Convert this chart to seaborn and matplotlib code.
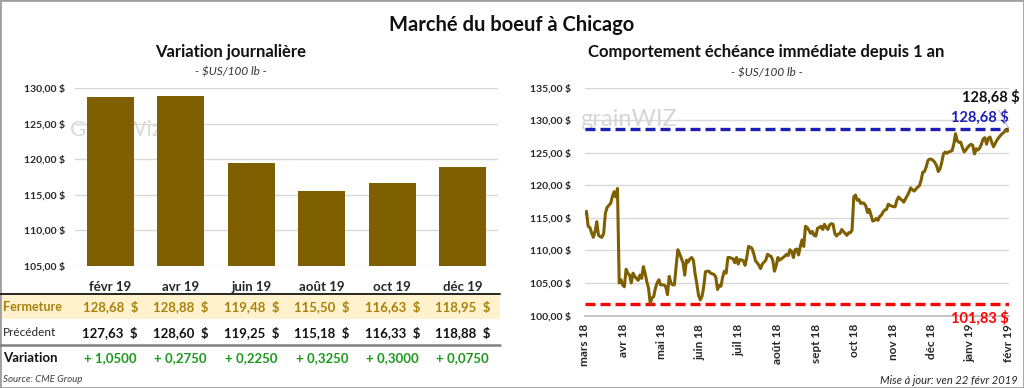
import numpy as np
import pandas as pd
import matplotlib
matplotlib.use("Agg")
import matplotlib.pyplot as plt
import seaborn as sns
from matplotlib.transforms import blended_transform_factory
from matplotlib.patches import Rectangle
from matplotlib.lines import Line2D

# --- left panel: daily variation per contract month
months = ["févr 19", "avr 19", "juin 19", "août 19", "oct 19", "déc 19"]
fermeture = [128.68, 128.88, 119.48, 115.50, 116.63, 118.95]
precedent = [127.63, 128.60, 119.25, 115.18, 116.33, 118.88]
variation = [1.0500, 0.2750, 0.2250, 0.3250, 0.3000, 0.0750]

# --- right panel: nearby contract over one year
tick_labels = ["mars 18", "avr 18", "mai 18", "juin 18", "juil 18", "août 18",
               "sept 18", "oct 18", "nov 18", "déc 18", "janv 19", "févr 19"]
prix = [
    115.7, 116.0, 113.7, 113.5, 112.7, 112.0, 112.9, 114.4, 112.3, 112.1,
    112.0, 112.6, 115.7, 116.6, 116.9, 117.2, 118.2, 119.0, 118.2, 119.5,
    105.0, 105.5, 104.7, 104.4, 107.1, 106.5, 106.2, 105.0, 106.5, 106.0,
    105.7, 105.4, 106.2, 105.7, 107.5, 106.5, 105.2, 104.2, 101.83, 102.7,
    102.9, 104.2, 105.0, 105.5, 104.7, 104.7, 104.7, 104.4, 103.2, 106.0,
    105.0, 104.7, 104.7, 107.5, 110.1, 109.5, 108.8, 108.1, 106.2, 108.5,
    108.2, 108.7, 108.9, 108.5, 106.4, 104.9, 103.1, 102.4, 102.9, 104.4,
    106.7, 106.8, 106.8, 106.5, 106.4, 106.3, 105.9, 104.0, 104.6, 104.5,
    105.9, 106.8, 106.5, 108.9, 108.9, 108.8, 108.7, 108.1, 108.9, 107.9,
    108.6, 108.5, 108.4, 107.7, 109.0, 110.6, 110.5, 110.3, 109.5, 108.4,
    108.1, 107.7, 107.2, 107.9, 108.2, 108.5, 109.4, 109.2, 109.1, 108.5,
    106.8, 107.6, 108.9, 108.5, 108.7, 108.9, 109.1, 109.4, 109.2,
    110.1, 109.8, 108.9, 110.1, 110.2, 109.3, 110.6, 111.6, 110.6, 113.7,
    113.5, 113.1, 112.6, 112.9, 112.3, 112.2, 113.4, 113.5, 113.7, 113.2,
    114.0, 113.5, 113.2, 113.9, 114.1, 114.0, 112.6, 112.2, 112.5, 112.6,
    113.2, 112.9, 112.6, 112.3, 112.7, 112.7, 113.1, 118.2, 118.5, 117.7,
    117.8, 117.2, 117.3, 117.2, 116.8, 115.8, 116.3, 115.4, 114.5, 114.6,
    114.9, 114.6, 115.2, 115.4, 115.9, 116.2, 116.3, 117.1, 116.9, 116.8,
    116.7,
    116.7, 117.7, 118.2, 117.9, 117.7, 117.4, 117.9, 118.4, 118.9, 119.6,
    119.3, 119.1, 119.4, 119.7, 119.9, 120.7, 122.0, 122.1, 122.8, 123.8,
    124.0, 124.0, 123.8, 123.5, 123.0, 122.1, 122.5, 123.5, 124.8, 125.1,
    124.9, 125.1, 125.2, 125.3, 126.3, 127.9, 126.8, 126.6, 126.6, 125.8,
    125.1, 125.4, 125.8, 126.1, 126.3, 126.1, 124.8, 125.6, 125.4, 125.7,
    126.3, 127.1, 127.3, 126.3, 127.2, 127.4, 126.6, 125.9, 126.4, 126.9,
    127.3, 127.6, 127.9, 128.1, 128.5, 128.3, 128.68,
]

BROWN = "#7F6000"
GOLD_TXT = "#A8820E"
GREEN = "#1A9A1A"
GRID = "#D9D9D9"


def euro(v, sep=" "):
    return f"{v:.2f}".replace(".", ",") + sep + "$"


sns.set_theme(style="white")
plt.rcParams["font.family"] = ["Lato", "DejaVu Sans"]

W, H = 1024, 388
fig = plt.figure(figsize=(W / 100, H / 100), dpi=100)


def fx(px):
    return px / W


def fy(py):
    return 1 - py / H


# ---------------- left bar chart
ax1 = fig.add_axes([fx(75), fy(266), (498 - 75) / W, (266 - 88) / H])
df = pd.DataFrame({"mois": months, "fermeture": fermeture})
sns.barplot(data=df, x="mois", y="fermeture", color=BROWN, saturation=1,
            width=0.66, linewidth=0, ax=ax1, zorder=2)
ax1.set_ylim(105, 130)
ax1.set_xlim(-0.5, len(months) - 0.5)
ax1.set_yticks(np.arange(105, 131, 5))
ax1.set_yticklabels([euro(v) for v in np.arange(105, 131, 5)],
                    fontsize=7.5, fontweight="bold")
ax1.yaxis.grid(True, color=GRID, lw=1)
ax1.set_axisbelow(True)
ax1.set_xlabel("")
ax1.set_ylabel("")
for s in ax1.spines.values():
    s.set_visible(False)
ax1.tick_params(axis="y", length=0, pad=7)
ax1.tick_params(axis="x", length=0, pad=11, labelsize=9.5)
for t in ax1.get_xticklabels():
    t.set_fontweight("bold")
ax1.text(fx(70), fy(130), "GrainWiz", transform=fig.transFigure, fontsize=16,
         color="#DADADA", va="center", ha="left", zorder=1)

# table under the bars
tr = blended_transform_factory(ax1.transData, fig.transFigure)
fig.patches.append(Rectangle((0, fy(319)), fx(500), (319 - 294) / H,
                             transform=fig.transFigure, facecolor="#FFF2CC",
                             edgecolor="none", zorder=-1))
fig.lines.append(Line2D([0, fx(500)], [fy(294), fy(294)], color="#262626",
                        lw=1.4, transform=fig.transFigure))
fig.lines.append(Line2D([0, fx(500)], [fy(345), fy(345)], color="#7F7F7F",
                        lw=1.8, transform=fig.transFigure))

fig.text(fx(3), fy(307), "Fermeture", color=GOLD_TXT, fontsize=9,
         fontweight="bold", va="center")
fig.text(fx(3), fy(333), "Précédent", color="#262626", fontsize=8.5, va="center")
fig.text(fx(3), fy(358), "Variation", color="#111111", fontsize=9.5,
         fontweight="bold", va="center")
for i in range(len(months)):
    ax1.text(i, fy(307), euro(fermeture[i], "  "), transform=tr, ha="center",
             va="center", fontsize=9.5, fontweight="bold", color=GOLD_TXT)
    ax1.text(i, fy(333), euro(precedent[i], "  "), transform=tr, ha="center",
             va="center", fontsize=9.5, fontweight="bold", color="#111111")
    ax1.text(i, fy(358), "+ " + f"{variation[i]:.4f}".replace(".", ","),
             transform=tr, ha="center", va="center", fontsize=9.5,
             fontweight="bold", color=GREEN)

# ---------------- right line chart
n = len(prix)
ax2 = fig.add_axes([fx(584.7), fy(315.5), (1009 - 584.7) / W, (315.5 - 87.5) / H])
df2 = pd.DataFrame({"jour": np.arange(n), "prix": prix})
ax2.text(fx(580), fy(119), "grainWIZ", transform=fig.transFigure, fontsize=17,
         color="#D6D6D6", va="center", ha="left", zorder=0.6)
sns.lineplot(data=df2, x="jour", y="prix", color=BROWN, lw=2.2, ax=ax2, zorder=3)
ax2.set_xlim(0, n - 1)
ax2.set_ylim(100, 135)
ax2.set_yticks(np.arange(100, 136, 5))
ax2.set_yticklabels([euro(v) for v in np.arange(100, 136, 5)],
                    fontsize=7.5, fontweight="bold")
ax2.set_xticks(np.linspace(0, n - 1, len(tick_labels)))
ax2.set_xticklabels(tick_labels, rotation=90, fontsize=8.5, fontweight="bold")
ax2.yaxis.grid(True, color=GRID, lw=1)
ax2.set_axisbelow(True)
ax2.set_xlabel("")
ax2.set_ylabel("")
for k in ["top", "right", "left"]:
    ax2.spines[k].set_visible(False)
ax2.spines["bottom"].set_color("#BFBFBF")
ax2.tick_params(axis="y", length=0, pad=10)
ax2.tick_params(axis="x", length=4, width=0.8, color="#BFBFBF",
                direction="out", pad=2)

pmax, pmin = max(prix), min(prix)
ax2.axhline(pmax, color="#1E1EB4", lw=2.4, ls=(0, (3, 1.5)), zorder=2)
ax2.axhline(pmin, color="#FF0000", lw=2.4, ls=(0, (3, 1.5)), zorder=2)
ax2.annotate(euro(pmax), xy=(n - 1, pmax), xytext=(0, 3),
             textcoords="offset points", ha="right", va="bottom",
             fontsize=10.5, fontweight="bold", color="#1E1EB4")
ax2.annotate(euro(pmin), xy=(n - 1, pmin), xytext=(0, -5),
             textcoords="offset points", ha="right", va="top",
             fontsize=10.5, fontweight="bold", color="#FF0000")
ax2.annotate(euro(prix[-1]), xy=(n - 1, prix[-1]), xytext=(8, 23),
             textcoords="offset points", ha="right", va="center",
             fontsize=10.5, fontweight="bold", color="#111111",
             arrowprops=dict(arrowstyle="-", color="#B0B0B0", lw=0.6,
                             shrinkA=2, shrinkB=0))

# ---------------- titles and notes
fig.text(0.5, fy(25), "Marché du boeuf à Chicago", ha="center", va="center",
         fontsize=14.5, fontweight="bold", color="#111111")
fig.text(fx(231), fy(52), "Variation journalière", ha="center", va="center",
         fontsize=12, fontweight="bold", color="#111111")
fig.text(fx(231), fy(72), "- $US/100 lb -", ha="center", va="center",
         fontsize=8.5, style="italic", color="#333333")
fig.text(fx(766), fy(52), "Comportement échéance immédiate depuis 1 an",
         ha="center", va="center", fontsize=12, fontweight="bold",
         color="#111111")
fig.text(fx(767), fy(73), "- $US/100 lb -", ha="center", va="center",
         fontsize=8.5, style="italic", color="#333333")
fig.text(fx(3), fy(380), "Source: CME Group", ha="left", va="center",
         fontsize=7, style="italic", color="#404040")
fig.text(fx(1018), fy(380), "Mise à jour: ven 22 févr 2019", ha="right",
         va="center", fontsize=8, style="italic", color="#262626")

fig.patches.append(Rectangle((0, 0), 1, 1, transform=fig.transFigure,
                             fill=False, edgecolor="#A0A0A0", lw=2))

fig.savefig("out.png", dpi=100)
